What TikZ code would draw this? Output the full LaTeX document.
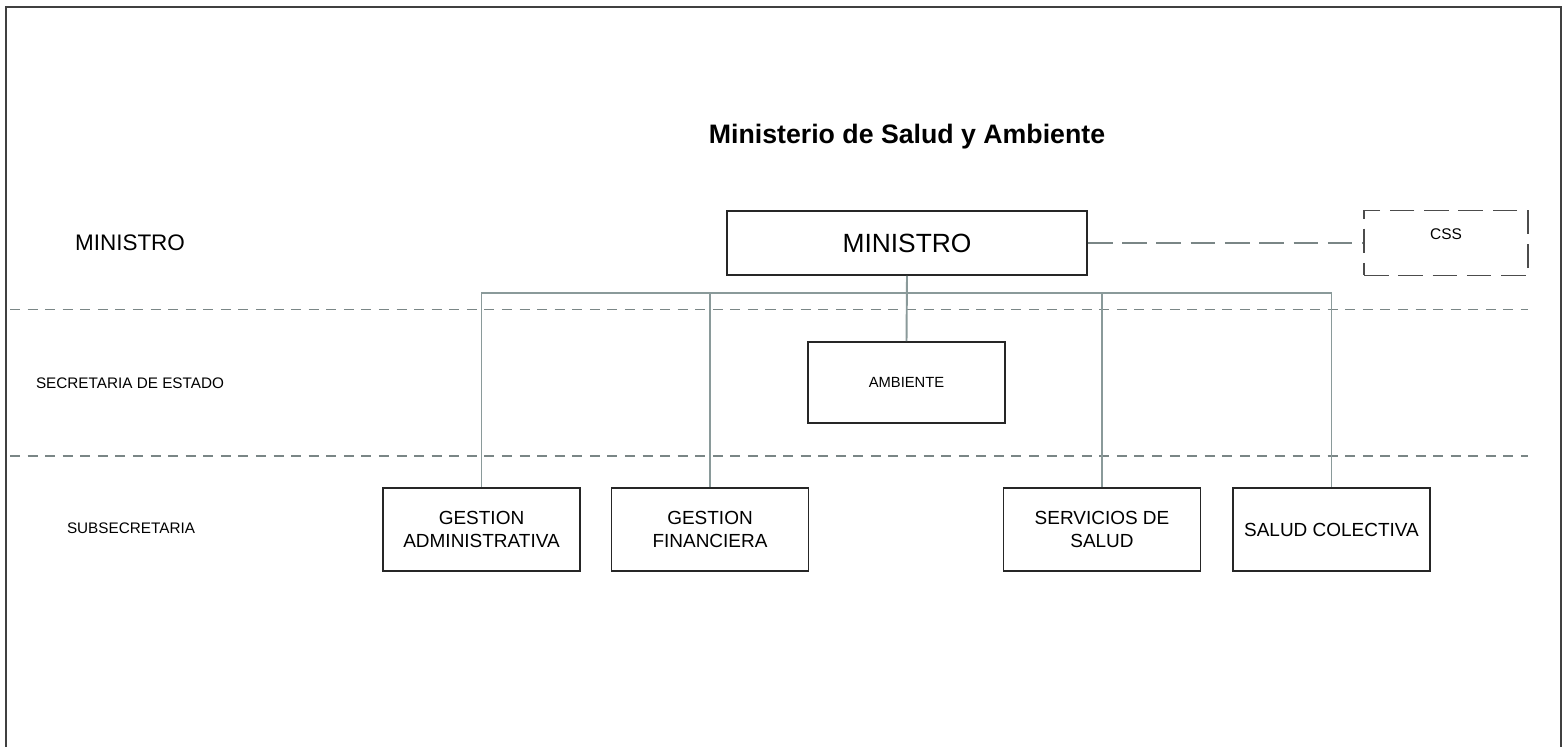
\documentclass[tikz,border=0pt]{standalone}
\usepackage{fontspec}
\setmainfont{Liberation Sans}
\definecolor{linkgray}{HTML}{8A9A9A}
\definecolor{bandgray}{HTML}{7A8686}
\begin{document}
\begin{tikzpicture}[x=0.02cm,y=-0.02cm]
        \tikzstyle{every node}+=[inner sep=0pt]
        \tikzstyle{unitbox}=[draw=black!85, line width=1.1pt, minimum width=3.94cm, minimum height=1.66cm, align=center, font=\fontsize{10.8}{13}\selectfont]
        \tikzstyle{levellabel}=[anchor=base, font=\fontsize{8.7}{10}\selectfont]
        \tikzstyle{link}=[linkgray, line width=1.1pt]
        \tikzstyle{band}=[bandgray, line width=0.8pt, dash pattern=on 5.7pt off 4.3pt]
        \useasboundingbox (0,0) rectangle (1565,747);
        % frame
        \draw [black!75, line width=1.2pt] (6,747) -- (6,7) -- (1561,7) -- (1561,747);
        % title and level names
        \node (title) [anchor=base, font=\fontsize{15.2}{18}\selectfont\bfseries] at (907,143) {Ministerio de Salud y Ambiente};
        \node (lvlmin) [anchor=base, font=\fontsize{12.8}{15}\selectfont] at (130,250) {MINISTRO};
        \node (lvlsec) [levellabel] at (130,388) {SECRETARIA DE ESTADO};
        \node (lvlsub) [levellabel] at (131,533) {SUBSECRETARIA};
        % level separators
        \draw [band] (10,309.5) -- (1528,309.5);
        \draw [band] (10,456) -- (1528,456);
        % boxes
        \node (min) [draw=black!85, line width=1.1pt, minimum width=7.2cm, minimum height=1.28cm, font=\fontsize{15}{18}\selectfont] at (907,243) {MINISTRO};
        \node (css) [draw=black!70, line width=1pt, dash pattern=on 14pt off 5.5pt, minimum width=3.28cm, minimum height=1.3cm, text height=6.3pt, text depth=10.2pt, font=\fontsize{8.8}{10}\selectfont] at (1446,243) {CSS};
        \node (amb) [unitbox, minimum height=1.62cm, font=\fontsize{8.4}{10}\selectfont] at (906.5,382.5) {AMBIENTE};
        \node (ga) [unitbox] at (481.5,529.5) {GESTION\\ADMINISTRATIVA};
        \node (gf) [unitbox] at (710,529.5) {GESTION\\FINANCIERA};
        \node (ss) [unitbox] at (1102,529.5) {SERVICIOS DE\\SALUD};
        \node (sc) [unitbox] at (1331.5,529.5) {SALUD COLECTIVA};
        % connectors
        \coordinate (bus) at (907,293);
        \draw [link] (min.south) -- (amb.north);
        \draw [link] (ga.north) |- (bus);
        \draw [link] (gf.north) |- (bus);
        \draw [link] (ss.north) |- (bus);
        \draw [link] (sc.north) |- (bus);
        \draw [bandgray, line width=0.9pt, dash pattern=on 14pt off 5.5pt] (min.east) -- (css.west);
\end{tikzpicture}
\end{document}
